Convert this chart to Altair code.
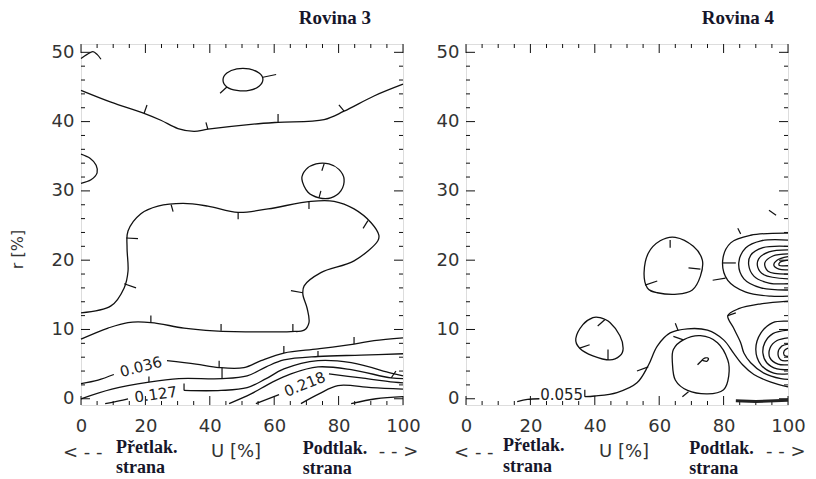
import altair as alt
import pandas as pd

# ---------------- axis tick values ----------------
U_TICKS = [0, 20, 40, 60, 80, 100]
R_TICKS = [0, 10, 20, 30, 40, 50]
U_MINOR = [5, 10, 15, 25, 30, 35, 45, 50, 55, 65, 70, 75, 85, 90, 95]
R_MINOR = [2, 4, 6, 8, 12, 14, 16, 18, 22, 24, 26, 28, 32, 34, 36, 38, 42, 44, 46, 48]

# ---------------- Rovina 3 contours (U %, r %) ----------------
R3_TOP = [(0, 44.5), (9.3, 42.8), (19.6, 41.2), (24.8, 40.2), (30.1, 39.0), (35.1, 38.6),
          (39.4, 38.9), (52.8, 39.6), (61.2, 39.9), (75.5, 40.3), (81.7, 41.5), (91.0, 43.7), (100, 45.4)]
R3_CORNER = [(0, 49.1), (1.9, 49.7), (3.7, 50.1), (5.0, 49.7), (6.2, 49.0)]
R3_LEFT_LOBE = [(0, 35.3), (2.8, 34.7), (4.7, 33.7), (5.0, 32.6), (3.1, 31.6), (0, 31.1)]
R3_LOOP = [(0, 12.4), (9.3, 13.4), (13.4, 16.0), (14.6, 18.4), (14.3, 21.8), (14.6, 24.2), (18.6, 26.7),
           (23.9, 27.8), (31.7, 28.2), (39.4, 27.8), (48.8, 26.9), (58.1, 27.4), (71.4, 28.5), (78.6, 28.5),
           (84.8, 27.4), (90.1, 25.4), (92.5, 23.6), (92.2, 22.8), (84.8, 19.9), (74.5, 18.2), (69.3, 16.3),
           (68.9, 15.1), (70.2, 13.1), (70.8, 11.0), (69.3, 9.9), (65.2, 9.7), (47.5, 9.7), (41.3, 9.8),
           (32.0, 10.2), (21.7, 11.0), (14.6, 11.0), (8.4, 10.2), (0, 8.6)]
R3_B1A = [(0, 2.2), (5.3, 2.7), (10.2, 3.5)]
R3_B1B = [(26.7, 5.5), (35.7, 5.0), (42.9, 4.5), (50.6, 4.5), (55.9, 5.5), (63.0, 6.6), (73.6, 7.2),
          (84.8, 7.9), (91.0, 8.4), (100, 8.8)]
R3_B2 = [(0, 0), (9.6, 1.4), (21.1, 2.4), (30.4, 2.9), (43.8, 2.9), (51.6, 3.3), (57.5, 4.6), (63.0, 5.6),
         (73.6, 6.1), (87.0, 6.3), (100, 6.5)]
R3_B3A = [(7.5, -0.7), (11.8, -0.3), (14.6, 0)]
R3_B3B = [(32.0, 1.2), (43.5, 1.2), (51.6, 1.6), (57.5, 2.9), (63.0, 4.3), (73.6, 5.5), (83.9, 5.2),
          (96.3, 3.7), (100, 3.3)]
R3_B4 = [(46.0, -0.7), (52.8, 0.7), (59.0, 2.3), (65.2, 3.6), (73.6, 4.6), (83.9, 4.2), (96.3, 3.0), (100, 2.9)]
R3_B5A = [(54.3, -0.7), (61.5, 0.6)]
R3_B5B = [(77.0, 3.6), (87.0, 3.0), (97.2, 2.4), (100, 2.3)]
R3_B6 = [(68.3, -0.7), (73.9, 0.7), (79.8, 1.9), (90.1, 1.6), (100, 1.4)]
R3_B7 = [(83.9, -0.7), (91.6, 0), (100, 0.3)]
R3_ELLIPSE = [(44.1, 46.0), (45.3, 47.0), (48.4, 47.6), (52.2, 47.6), (55.3, 47.0), (56.5, 46.1),
              (55.3, 45.1), (52.2, 44.5), (48.4, 44.5), (45.3, 45.0)]
R3_CIRCLE = [(68.6, 31.7), (69.9, 33.1), (73.0, 33.9), (77.0, 33.9), (80.1, 33.1), (81.7, 31.7),
             (80.7, 30.0), (77.6, 29.0), (73.9, 29.0), (70.5, 29.8)]
# hachures: (U, r, U2, r2)
R3_HACH = [(19.6, 41.2, 20.5, 42.4), (39.4, 38.9, 38.8, 39.9), (61.2, 39.9, 61.2, 41.1), (81.7, 41.5, 80.1, 42.4),
           (45.3, 45.0, 43.2, 44.1), (56.5, 46.4, 60.6, 46.8), (75.5, 33.9, 74.8, 32.9), (73.9, 29.0, 74.5, 30.0),
           (28.0, 28.0, 28.6, 27.0), (48.8, 26.9, 48.8, 25.9), (70.8, 28.5, 70.8, 27.4), (89.1, 25.7, 87.6, 24.6),
           (14.0, 23.2, 17.7, 23.1), (13.4, 16.6, 17.1, 16.0), (68.9, 15.3, 65.2, 15.6), (21.7, 11.0, 21.7, 12.0),
           (43.5, 9.8, 43.5, 10.8), (65.8, 9.7, 65.8, 10.8), (42.9, 4.5, 42.9, 5.5), (63.0, 6.6, 63.0, 7.6),
           (84.8, 7.9, 84.8, 8.9), (21.1, 2.4, 21.1, 3.2), (43.8, 2.9, 43.8, 4.5), (73.6, 6.1, 73.6, 6.9),
           (32.0, 1.2, 32.0, 2.2), (96.3, 3.0, 97.8, 4.0)]
R3_LABELS = [("0.036", 18.6, 4.6, 345), ("0.127", 23.2, 0.6, 352), ("0.218", 69.5, 2.1, 338)]

# ---------------- Rovina 4 contours ----------------
R4_S = [(36.9, 0.3), (40.0, 0.4), (46.9, 0.9), (53.1, 2.3), (56.6, 4.8), (59.4, 7.6), (63.4, 9.5), (68.8, 10.1),
        (75.0, 9.9), (80.0, 8.5), (83.1, 6.6), (85.9, 4.9), (89.4, 3.5), (94.7, 2.4), (100, 1.7)]
R4_SQUIG = [(15.9, -0.4), (19.1, -0.1), (22.8, 0.0)]
R4_MID = [(100, 14.1), (91.6, 13.7), (84.7, 13.0), (81.3, 12.0), (83.1, 10.2), (85.3, 8.1), (86.3, 6.6),
          (88.4, 5.2), (92.5, 3.7), (97.8, 2.9), (100, 2.8)]
R4_UA1 = [(100, 23.9), (88.4, 23.6), (82.2, 22.5), (79.7, 19.9), (81.3, 17.1), (86.9, 15.4), (94.7, 14.8), (100, 14.8)]
R4_UA2 = [(100, 22.9), (91.6, 22.8), (86.9, 21.8), (84.7, 19.6), (86.3, 17.3), (91.6, 16.0), (100, 15.7)]
R4_UA3 = [(100, 22.0), (92.2, 21.8), (88.4, 20.7), (87.8, 19.3), (89.4, 17.7), (94.1, 16.7), (100, 16.6)]
R4_UA4 = [(100, 21.5), (94.1, 21.2), (90.9, 20.2), (90.6, 19.0), (92.5, 17.9), (100, 17.3)]
R4_UA5 = [(100, 20.9), (95.3, 20.6), (92.8, 19.6), (93.8, 18.4), (100, 18.0)]
R4_UA6 = [(100, 20.5), (96.6, 20.0), (95.6, 19.3), (97.2, 18.7), (100, 18.6)]
R4_UA7 = [(100, 20.0), (97.5, 19.7), (97.2, 19.3), (100, 19.2)]
R4_LA1 = [(100, 11.2), (95.3, 11.0), (91.6, 9.5), (90.0, 7.1), (91.6, 4.9), (95.6, 3.7), (100, 3.6)]
R4_LA2 = [(100, 9.9), (95.3, 9.4), (92.8, 8.1), (92.2, 6.6), (93.4, 5.2), (96.6, 4.3), (100, 4.2)]
R4_LA3 = [(100, 8.8), (96.6, 8.4), (94.4, 7.3), (94.4, 5.9), (96.9, 5.0), (100, 4.9)]
R4_LA4 = [(100, 7.9), (98.1, 7.6), (96.9, 6.6), (97.8, 5.6), (100, 5.5)]
R4_LA5 = [(100, 7.3), (98.8, 6.9), (98.8, 6.3), (100, 6.1)]
R4_TAIL = [(73.4, 5.6), (71.9, 4.9)]
R4_BOTTOM = [(83.8, -0.3), (90.0, -0.4), (100, -0.2)]
R4_LOOP_A = [(60.3, 22.8), (65.0, 23.3), (70.6, 22.0), (73.4, 20.0), (72.8, 17.7), (70.3, 15.7), (65.6, 15.1),
             (59.4, 15.3), (56.3, 16.0), (55.3, 18.2), (56.6, 21.0)]
R4_LOOP_B = [(39.4, 11.7), (41.6, 11.7), (44.7, 11.0), (47.8, 9.1), (48.8, 7.3), (47.8, 6.2), (44.7, 5.6),
             (39.4, 6.2), (35.3, 7.3), (34.1, 8.7), (36.3, 10.7)]
R4_LOOP_C = [(64.4, 7.1), (67.5, 8.5), (72.8, 9.1), (78.1, 8.1), (81.3, 5.6), (81.6, 3.3), (80.0, 1.3),
             (75.0, 0.7), (68.8, 1.2), (65.0, 2.7), (64.1, 5.2)]
R4_DOT = [(73.4, 5.6), (74.4, 5.9), (75.3, 5.8), (74.7, 5.4)]
R4_HACH = [(63.4, 22.9, 63.4, 21.8), (72.8, 18.7, 69.1, 18.9), (55.6, 16.4, 59.4, 17.0), (43.1, 11.4, 40.9, 10.5),
           (44.1, 5.6, 44.1, 7.1), (35.3, 7.3, 38.4, 7.8), (36.9, 0.3, 36.9, 1.3), (56.6, 4.6, 53.1, 4.0),
           (65.9, 9.8, 65.0, 10.9), (67.5, 8.5, 64.4, 9.0), (69.1, 1.0, 67.2, 0.3), (85.3, 23.8, 84.4, 24.6),
           (79.7, 19.6, 83.8, 19.6), (80.6, 17.4, 76.6, 17.1), (94.1, 27.2, 96.3, 26.5), (81.3, 12.0, 83.8, 12.4)]
R4_LABELS = [("0.055", 29.7, 0.6, 0)]

# ---------------- annotations below the panels: (text, U, r) ----------------
R3_ANN_SANS = [("< - -", -5.6, -7.8), ("U [%]", 40.4, -7.7), ("- - >", 92.5, -7.7)]
R3_ANN_SERIF = [("Přetlak.", 10.9, -7.1), ("strana", 10.9, -10.0), ("Podtlak.", 68.9, -7.2), ("strana", 68.9, -10.1)]
R4_ANN_SANS = [("< - -", -3.7, -7.8), ("U [%]", 41.3, -7.7), ("- - >", 93.2, -7.7)]
R4_ANN_SERIF = [("Přetlak.", 11.5, -6.8), ("strana", 11.5, -9.8), ("Podtlak.", 69.3, -7.2), ("strana", 69.3, -10.1)]


def lines_df(named):
    rows = []
    for name, pts in named.items():
        for i, (u, r) in enumerate(pts):
            rows.append({"id": name, "i": i, "U": u, "r": r})
    return pd.DataFrame(rows)


W, H = 322, 361
XS = alt.Scale(domain=[0, 100], nice=False, zero=False)
YS = alt.Scale(domain=[-0.9, 51.2], nice=False, zero=False)
INK = "#111111"


def panel(open_l, closed_l, thick_l, hach, labels, ann_sans, ann_serif, title, title_dx, ytitle):
    xaxis = alt.Axis(values=U_TICKS, title=None, grid=False, domain=False, ticks=False,
                     labelFont="DejaVu Sans", labelFontSize=18, labelColor="#333333",
                     labelPadding=12, labelFlush=False, format="d")
    if ytitle:
        yaxis = alt.Axis(values=R_TICKS, title=ytitle, grid=False, domain=False, ticks=False,
                         labelFont="DejaVu Sans", labelFontSize=18, labelColor="#333333",
                         labelPadding=7, labelFlush=False, format="d",
                         titleFont="DejaVu Sans", titleFontSize=16, titleFontWeight="normal",
                         titleColor="#333333", titleX=-56, titleY=205, titleAngle=270)
    else:
        yaxis = alt.Axis(values=R_TICKS, title=None, grid=False, domain=False, ticks=False,
                         labelFont="DejaVu Sans", labelFontSize=18, labelColor="#333333",
                         labelPadding=7, labelFlush=False, format="d")
    X = alt.X("U:Q", scale=XS, axis=xaxis)
    Y = alt.Y("r:Q", scale=YS, axis=yaxis)

    ux_major = pd.DataFrame({"U": U_TICKS})
    ux_minor = pd.DataFrame({"U": U_MINOR})
    ry_major = pd.DataFrame({"r": R_TICKS})
    ry_minor = pd.DataFrame({"r": R_MINOR})
    rule = dict(color=INK, strokeWidth=1)
    layers = []
    for d, ln in ((ux_major, 9), (ux_minor, 4)):
        layers.append(alt.Chart(d).mark_rule(**rule).encode(x=X, y=alt.value(H), y2=alt.value(H - ln)))
        layers.append(alt.Chart(d).mark_rule(**rule).encode(x=X, y=alt.value(0), y2=alt.value(ln)))
    for d, ln in ((ry_major, 9), (ry_minor, 4)):
        layers.append(alt.Chart(d).mark_rule(**rule).encode(y=Y, x=alt.value(0), x2=alt.value(ln)))
        layers.append(alt.Chart(d).mark_rule(**rule).encode(y=Y, x=alt.value(W), x2=alt.value(W - ln)))

    layers.append(alt.Chart(lines_df(open_l)).mark_line(color=INK, strokeWidth=1.3, interpolate="catmull-rom")
                  .encode(x=X, y=Y, detail="id:N", order="i:Q"))
    layers.append(alt.Chart(lines_df(closed_l)).mark_line(color=INK, strokeWidth=1.3, interpolate="cardinal-closed")
                  .encode(x=X, y=Y, detail="id:N", order="i:Q"))
    if thick_l:
        layers.append(alt.Chart(lines_df(thick_l)).mark_line(color="#222222", strokeWidth=3, interpolate="linear")
                      .encode(x=X, y=Y, detail="id:N", order="i:Q"))
    hdf = pd.DataFrame(hach, columns=["U", "r", "U2", "r2"])
    layers.append(alt.Chart(hdf).mark_rule(color=INK, strokeWidth=1.2)
                  .encode(x=X, y=Y, x2="U2:Q", y2="r2:Q"))
    ldf = pd.DataFrame(labels, columns=["t", "U", "r", "a"])
    layers.append(alt.Chart(ldf).mark_text(font="DejaVu Sans", fontSize=15, color="#222222")
                  .encode(x=X, y=Y, text="t:N", angle=alt.Angle("a:Q", scale=None)))
    sdf = pd.DataFrame(ann_sans, columns=["t", "U", "r"])
    layers.append(alt.Chart(sdf).mark_text(align="left", baseline="middle", font="DejaVu Sans",
                                           fontSize=18, color="#333333")
                  .encode(x=X, y=Y, text="t:N"))
    fdf = pd.DataFrame(ann_serif, columns=["t", "U", "r"])
    layers.append(alt.Chart(fdf).mark_text(align="left", baseline="middle", font="Liberation Serif",
                                           fontSize=18, fontWeight="bold", color="#16162a")
                  .encode(x=X, y=Y, text="t:N"))
    return alt.layer(*layers).properties(
        width=W, height=H,
        title=alt.TitleParams(title, anchor="end", frame="group", dx=title_dx, font="Liberation Serif",
                              fontSize=19, fontWeight="bold", color="#16162a", offset=15))


left = panel(
    {"top": R3_TOP, "corner": R3_CORNER, "lobe": R3_LEFT_LOBE, "loop": R3_LOOP, "b1a": R3_B1A, "b1b": R3_B1B,
     "b2": R3_B2, "b3a": R3_B3A, "b3b": R3_B3B, "b4": R3_B4, "b5a": R3_B5A, "b5b": R3_B5B, "b6": R3_B6, "b7": R3_B7},
    {"ell": R3_ELLIPSE, "circ": R3_CIRCLE},
    None, R3_HACH, R3_LABELS, R3_ANN_SANS, R3_ANN_SERIF, "Rovina 3", -32, "r [%]")

right = panel(
    {"s": R4_S, "sq": R4_SQUIG, "mid": R4_MID, "ua1": R4_UA1, "ua2": R4_UA2, "ua3": R4_UA3, "ua4": R4_UA4,
     "ua5": R4_UA5, "ua6": R4_UA6, "ua7": R4_UA7, "la1": R4_LA1, "la2": R4_LA2, "la3": R4_LA3, "la4": R4_LA4,
     "la5": R4_LA5, "tail": R4_TAIL},
    {"a": R4_LOOP_A, "b": R4_LOOP_B, "c": R4_LOOP_C, "dot": R4_DOT},
    {"bot": R4_BOTTOM}, R4_HACH, R4_LABELS, R4_ANN_SANS, R4_ANN_SERIF, "Rovina 4", -14, None)

chart = alt.hconcat(left, right, spacing=63, bounds="flush").properties(padding=0).configure_view(
    stroke=INK, strokeWidth=1.5).configure(background="white")

chart.save("out.html", embed_options={"renderer": "svg", "actions": False})
